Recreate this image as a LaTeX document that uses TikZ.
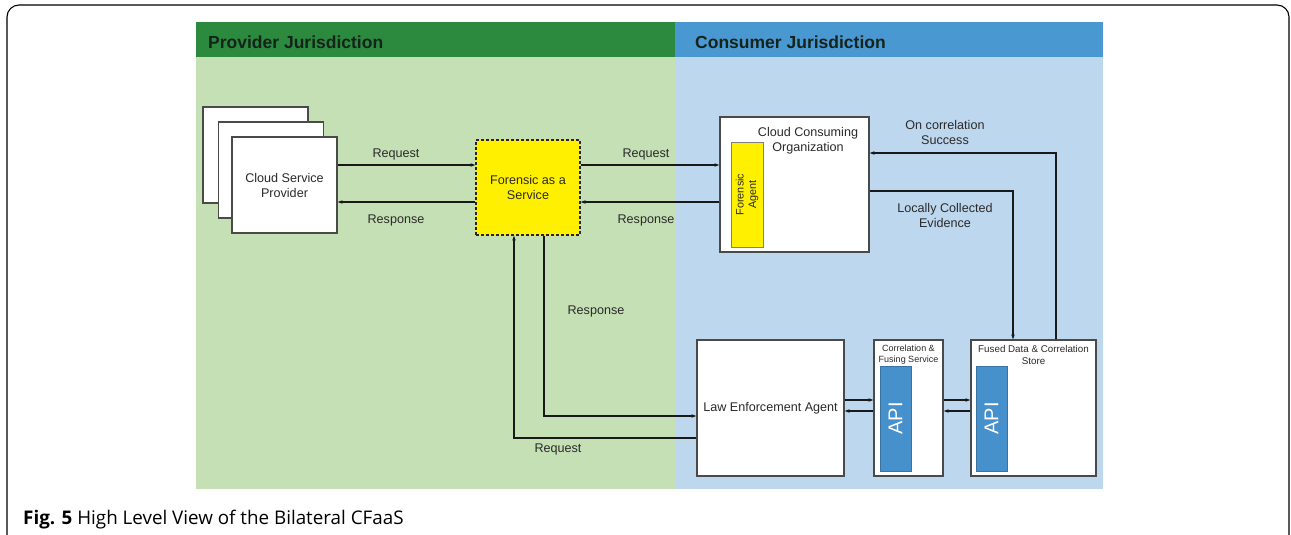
\documentclass[tikz,border=0pt]{standalone}
\usepackage{fontspec}
\setmainfont{Liberation Sans}
\newfontfamily\capfont{Open Sans}
\usetikzlibrary{arrows.meta}
\definecolor{provhead}{HTML}{2B8A3E}
\definecolor{provbody}{HTML}{C5E0B4}
\definecolor{conshead}{HTML}{4A98D2}
\definecolor{consbody}{HTML}{BDD7EE}
\definecolor{faasyellow}{HTML}{FFF000}
\definecolor{apiblue}{HTML}{4690CC}
\definecolor{boxgray}{HTML}{4A4A4A}
\definecolor{txtgray}{HTML}{2A2A2A}
\definecolor{headtxt}{HTML}{14241A}
\begin{document}
\begin{tikzpicture}[x=1pt,y=-1pt,
  box/.style={draw=boxgray,fill=white,line width=1.3pt,inner sep=0pt},
  lbl/.style={font=\fontsize{12.6}{15}\selectfont,align=center,text=txtgray,inner sep=0pt},
  small/.style={font=\fontsize{9}{11}\selectfont,align=center,text=txtgray,inner sep=0pt},
  head/.style={font=\fontsize{17.5}{20}\selectfont\bfseries,text=headtxt,anchor=west,inner sep=0pt},
  arr/.style={-{Stealth[length=5pt,width=3.5pt]},line width=1.1pt,draw=black!90},
  apibar/.style={fill=apiblue,draw=apiblue!80!black,line width=0.5pt,minimum width=31pt,minimum height=105pt,inner sep=0pt},
  apitxt/.style={font=\fontsize{20}{22}\selectfont,text=white,rotate=90,inner sep=0pt}
]
\useasboundingbox (0,0) rectangle (1291,535);
% outer frame
\draw[line width=1.1pt,rounded corners=12pt] (7,5) rectangle (1289,548);
% regions
\fill[provbody] (196,22) rectangle (676,489);
\fill[consbody] (675,22) rectangle (1103,489);
\fill[provhead] (196,22) rectangle (675,57);
\fill[conshead] (675,22) rectangle (1103,57);
\node[head] (hprov) at (208,42) {Provider Jurisdiction};
\node[head] (hcons) at (695,42) {Consumer Jurisdiction};

% cloud service provider stack
\node[box,minimum width=105pt,minimum height=96pt] (csp1) at (255.5,155) {};
\node[box,minimum width=105pt,minimum height=96pt] (csp2) at (271,170) {};
\node[box,minimum width=105pt,minimum height=96pt,lbl] (csp) at (284.5,185) {Cloud Service\\Provider};

% FaaS
\node[draw=black!85,densely dashed,line width=1.3pt,fill=faasyellow,minimum width=104pt,minimum height=95pt,lbl] (faas) at (528,187.5) {Forensic as a\\Service};

% Cloud consuming organization
\node[box,minimum width=149pt,minimum height=135pt] (cco) at (794.5,184.5) {};
\node[lbl] (ccot) at ([xshift=13.5pt,yshift=-24pt]cco.north) {Cloud Consuming\\Organization};
\node[fill=faasyellow,draw=boxgray!70,line width=0.5pt,minimum width=32pt,minimum height=105pt,inner sep=0pt] (fa) at (747,194.5) {};
\node[font=\fontsize{10.8}{12.5}\selectfont,align=center,text=txtgray,rotate=90,inner sep=0pt] (fat) at (fa.center) {Forensic\\Agent};

% bottom boxes
\node[box,minimum width=147pt,minimum height=136pt,lbl] (lea) at (770.5,408) {Law Enforcement Agent};
\node[box,minimum width=69pt,minimum height=136pt] (cfs) at (908.5,408) {};
\node[small] (cfst) at ([yshift=-15.5pt]cfs.north) {Correlation \&\\Fusing Service};
\node[apibar] (api1) at (895.5,418.5) {};
\node[apitxt] (api1t) at (api1.center) {API};
\node[box,minimum width=125pt,minimum height=136pt] (fused) at (1033.5,408) {};
\node[font=\fontsize{9.8}{12}\selectfont,align=center,text=txtgray,inner sep=0pt] (fusedt) at ([yshift=-16pt]fused.north) {Fused Data \& Correlation\\Store};
\node[apibar] (api2) at (991.5,418.5) {};
\node[apitxt] (api2t) at (api2.center) {API};

% connectors top row
\draw[arr] ([yshift=20pt]csp.east) -- ([yshift=20pt]csp.east -| faas.west);
\draw[arr] ([yshift=-17pt]csp.east -| faas.west) -- ([yshift=-17pt]csp.east);
\draw[arr] ([yshift=20pt]csp.east -| faas.east) -- ([yshift=20pt]csp.east -| cco.west);
\draw[arr] ([yshift=-17pt]csp.east -| cco.west) -- ([yshift=-17pt]csp.east -| faas.east);
\node[lbl] (l1) at (396,154) {Request};
\node[lbl] (l2) at (396,220) {Response};
\node[lbl] (l3) at (646,154) {Request};
\node[lbl] (l4) at (646,220) {Response};

% right loop
\draw[arr] ([xshift=22.5pt]fused.north) |- ([yshift=31.5pt]cco.east);
\draw[arr] ([yshift=-6.5pt]cco.east) -| ([xshift=-20.5pt]fused.north);
\node[lbl] (l5) at (945,132.5) {On correlation\\Success};
\node[lbl] (l6) at (945,215) {Locally Collected\\Evidence};

% bottom links
\draw[arr] ([yshift=8pt]lea.east) -- ([yshift=8pt]lea.east -| cfs.west);
\draw[arr] ([yshift=-3pt]lea.east -| cfs.west) -- ([yshift=-3pt]lea.east);
\draw[arr] ([yshift=8pt]cfs.east) -- ([yshift=8pt]cfs.east -| fused.west);
\draw[arr] ([yshift=-3pt]cfs.east -| fused.west) -- ([yshift=-3pt]cfs.east);

% left loop
\draw[arr] ([xshift=16pt]faas.south) |- ([yshift=-8pt]lea.west);
\draw[arr] ([yshift=-30pt]lea.west) -| ([xshift=-14pt]faas.south);
\node[lbl] (l7) at (596,311) {Response};
\node[lbl] (l8) at (558,449) {Request};

% caption
\node[anchor=base west,inner sep=0pt,font=\capfont\fontsize{18.8}{21}\selectfont] (cap) at (23,524) {\textbf{Fig. 5} High Level View of the Bilateral CFaaS};
\end{tikzpicture}
\end{document}
